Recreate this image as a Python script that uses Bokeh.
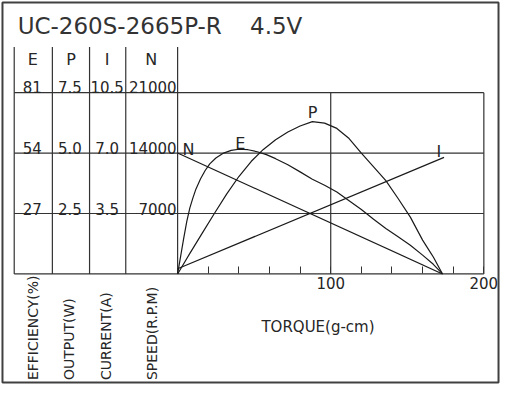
from bokeh.plotting import figure
from bokeh.models import Range1d, LinearAxis, FixedTicker
from bokeh.core.properties import value
from bokeh.embed import file_html
from bokeh.resources import INLINE

# ---------------- data ----------------
MODEL = "UC-260S-2665P-R"
VOLTAGE = "4.5V"
col_heads = ["E", "P", "I", "N"]
col_units = ["EFFICIENCY(%)", "OUTPUT(W)", "CURRENT(A)", "SPEED(R.P.M)"]
eff_ticks = [27, 54, 81]
out_ticks = [2.5, 5.0, 7.5]
cur_ticks = [3.5, 7.0, 10.5]
spd_ticks = [7000, 14000, 21000]
torque_ticks = [20, 40, 60, 80, 100, 120, 140, 160, 180, 200]
torque_labeled = [100, 200]
x_label = "TORQUE(g-cm)"

speed_torque = [0, 173]
speed = [14000, 0]

current_torque = [0, 174]
current = [0.3, 6.75]

eff_torque = [0, 2, 4, 6, 8, 10, 12, 15, 18, 21, 25, 30, 35, 40, 46, 52, 58, 64,
              72, 80, 88, 96, 104, 112, 120, 128, 136, 144, 152, 160, 167, 173]
eff = [0, 8, 16, 23.5, 29.5, 34, 38, 42.5, 46.2, 49.2, 51.8, 54, 55.2, 55.7, 55.5,
       54.6, 53.3, 51.5, 48.8, 45.6, 42.3, 39.6, 36.6, 32.7, 28.8, 24.4, 20.3, 16.6,
       12.8, 8.4, 4.3, 0]

out_torque = [0, 8, 16, 24, 32, 40, 48, 56, 64, 72, 80, 88, 96, 104, 112, 120, 128,
              136, 144, 152, 160, 167, 173]
out = [0, 0.85, 1.68, 2.5, 3.3, 4.03, 4.65, 5.15, 5.55, 5.87, 6.12, 6.30, 6.24, 6.02,
       5.6, 5.0, 4.43, 3.86, 3.12, 2.35, 1.4, 0.7, 0]

# ---------------- layout ----------------
W, H = 500, 384
REF_L, REF_R, REF_T, REF_B = 4, 513, 2, 396
SX = (W - 2) / (REF_R - REF_L)
SY = (H - 2) / (REF_B - REF_T)


def cx(r):
    return 1 + (r - REF_L) * SX


def cy(r):
    return 1 + (r - REF_T) * SY


PX0, PX1 = 184, 497   # torque 0 / torque 200
PY0, PY1 = 283, 96    # value 0 / top value
T_MAX = 200
N_MAX = spd_ticks[-1]
kx = T_MAX / (cx(PX1) - cx(PX0))
ky = N_MAX / (cy(PY0) - cy(PY1))


def DX(c):
    return (c - cx(PX0)) * kx


def DY(c):
    return (cy(PY0) - c) * ky


def X(r):
    return DX(cx(r))


def Y(r):
    return DY(cy(r))


y_lo, y_hi = DY(H), DY(0)

p = figure(width=W, height=H, x_range=Range1d(DX(0), DX(W)), y_range=Range1d(y_lo, y_hi),
           output_backend="svg", toolbar_location=None, min_border=0,
           x_axis_location=None, y_axis_location=None,
           outline_line_color=None, background_fill_color="white")
p.xgrid.visible = False
p.ygrid.visible = False

p.extra_y_ranges = {
    "eff": Range1d(y_lo * eff_ticks[-1] / N_MAX, y_hi * eff_ticks[-1] / N_MAX),
    "out": Range1d(y_lo * out_ticks[-1] / N_MAX, y_hi * out_ticks[-1] / N_MAX),
    "cur": Range1d(y_lo * cur_ticks[-1] / N_MAX, y_hi * cur_ticks[-1] / N_MAX),
}

FONT = value("DejaVu Sans")
INK = "#1a1a1a"
TXT = "#262626"
GRID = "#333333"

# outer frame
p.quad(left=X(5), right=X(512), top=Y(3), bottom=Y(395), fill_color=None,
       line_color="#404040", line_width=2)

# horizontal grid lines (0 and the speed ticks)
levels = [0] + spd_ticks
p.segment(x0=[X(17)] * len(levels), y0=levels, x1=[T_MAX] * len(levels), y1=levels,
          line_color=GRID, line_width=1.2)
# table column separators
col_lines = [X(17), X(56), X(94), X(131), 0]
p.segment(x0=col_lines, y0=[Y(49)] * len(col_lines), x1=col_lines, y1=[0] * len(col_lines),
          line_color=GRID, line_width=1.2)
# vertical lines at 100 and 200
p.segment(x0=torque_labeled, y0=[0, 0], x1=torque_labeled, y1=[N_MAX, N_MAX],
          line_color=GRID, line_width=1.2)

# bottom torque axis
ax = LinearAxis(fixed_location=0, bounds=(0, T_MAX), ticker=FixedTicker(ticks=torque_ticks),
                major_tick_in=7, major_tick_out=0, major_tick_line_color=GRID,
                major_tick_line_width=1, minor_tick_line_color=None, axis_line_color=None,
                major_label_overrides={t: (str(t) if t in torque_labeled else "") for t in torque_ticks},
                major_label_standoff=3, major_label_text_font="DejaVu Sans",
                major_label_text_font_size="15px", major_label_text_color=TXT)
p.add_layout(ax, "below")

# curves
lw = 1.2
p.line(speed_torque, speed, line_color=INK, line_width=lw)
p.line(current_torque, current, y_range_name="cur", line_color=INK, line_width=lw)
p.line(eff_torque, eff, y_range_name="eff", line_color=INK, line_width=lw, line_join="round")
p.line(out_torque, out, y_range_name="out", line_color=INK, line_width=lw, line_join="round")

# curve labels
p.text(x=[X(195), X(248), X(322), X(451)], y=[Y(155), Y(148), Y(117), Y(157)],
       text=["N", "E", "P", "I"], text_font=FONT, text_font_size="16px",
       text_align="center", text_baseline="middle", text_color=TXT)

# title
p.text(x=[X(20.5)], y=[Y(27.3)], text=[MODEL], text_font=FONT, text_font_size="23px",
       text_align="left", text_baseline="alphabetic", text_color="#333333")
p.text(x=[X(258)], y=[Y(27.3)], text=[VOLTAGE], text_font=FONT, text_font_size="23px",
       text_align="left", text_baseline="alphabetic", text_color="#333333")

# column headers
head_x = [X(36), X(75), X(112), X(157)]
p.text(x=head_x, y=[Y(62)] * 4, text=col_heads, text_font=FONT, text_font_size="16px",
       text_align="center", text_baseline="alphabetic", text_color=TXT)

# table values
row_base = [Y(216.5), Y(153.5), Y(90.5)]
p.text(x=[X(35.5)] * 3, y=row_base, text=[f"{v:d}" for v in eff_ticks], text_font=FONT,
       text_font_size="15px", text_align="center", text_baseline="alphabetic", text_color=TXT)
p.text(x=[X(74)] * 3, y=row_base, text=[f"{v:.1f}" for v in out_ticks], text_font=FONT,
       text_font_size="15px", text_align="center", text_baseline="alphabetic", text_color=TXT)
p.text(x=[X(112)] * 3, y=row_base, text=[f"{v:.1f}" for v in cur_ticks], text_font=FONT,
       text_font_size="15px", text_align="center", text_baseline="alphabetic", text_color=TXT)
p.text(x=[X(183)] * 3, y=row_base, text=[f"{v:d}" for v in spd_ticks], text_font=FONT,
       text_font_size="15px", text_align="right", text_baseline="alphabetic", text_color=TXT)

# rotated unit labels
p.text(x=[X(36), X(72.5), X(111), X(157.5)], y=[Y(392.5)] * 4, text=col_units, angle=1.5707963,
       text_font=FONT, text_font_size="14px", text_align="left", text_baseline="middle",
       text_color=TXT)

# x axis title
p.text(x=[X(327.5)], y=[Y(338)], text=[x_label], text_font=FONT, text_font_size="15px",
       text_align="center", text_baseline="middle", text_color=TXT)

open("out.html", "w").write(file_html(p, INLINE))
